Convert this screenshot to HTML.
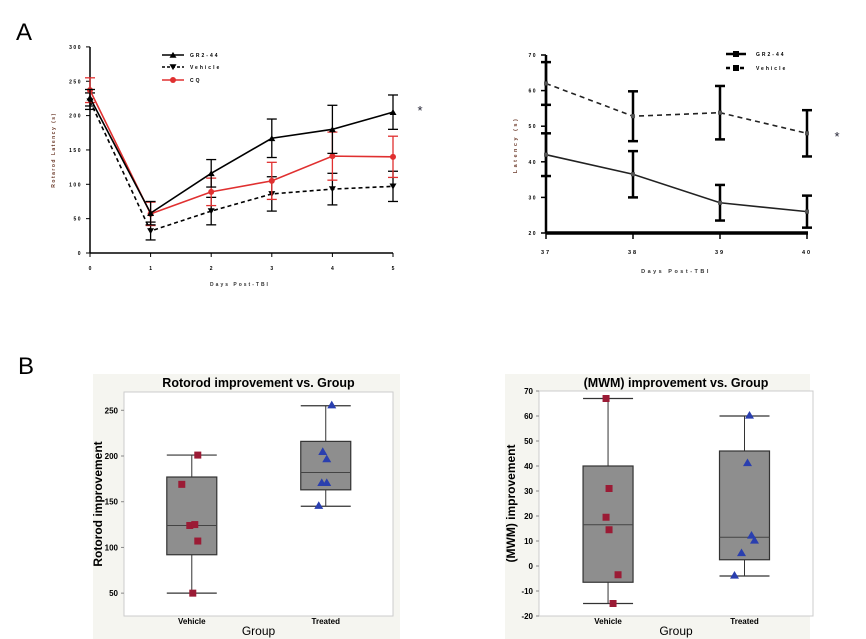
<!DOCTYPE html>
<html><head><meta charset="utf-8"><style>
body{margin:0;background:#fff;width:866px;height:639px;overflow:hidden;font-family:"Liberation Sans",sans-serif}
svg{position:absolute;left:0;top:0}
</style></head><body>
<svg id="s" width="866" height="639"></svg>
<script>
// Panel A left: rotarod latency
const daysA=[0,1,2,3,4,5];
const grMean=[226,58,116,167,180,205];
const grErr=[12,17,20,28,35,25];
const vehMean=[221,32,61,86,93,97];
const vehErr=[12,13,20,25,23,22];
const cqMean=[237,57,89,105,141,140];
const cqErr=[18,17,20,27,35,30];
const ticksA=[0,50,100,150,200,250,300];
// Panel A right: MWM latency
const daysB=[37,38,39,40];
const gr2Mean=[42,36.5,28.5,26];
const gr2Err=[6,6.5,5,4.5];
const veh2Mean=[62,52.8,53.8,48];
const veh2Err=[6,7,7.5,6.5];
const ticksB=[20,30,40,50,60,70];
// Panel B left: rotorod improvement
const groups=["Vehicle","Treated"];
const rotBox=[[50,92,124,177,201],[145,163,182,216,255]];
const rotVeh=[201,169,124,125,107,50];
const rotTrt=[255,204,196,170,170,145];
const ticksC=[50,100,150,200,250];
// Panel B right: MWM improvement
const mwmBox=[[-15,-6.5,16.5,40,67],[-4,2.5,11.5,46,60]];
const mwmVeh=[67,31,19.5,14.5,-3.5,-15];
const mwmTrt=[60,41,12,10,5,-4];
const ticksD=[-20,-10,0,10,20,30,40,50,60,70];
const jitVeh=[6,-10,-2,3,6,1], jitTrt=[6,-3,1,-4,1,-7];
const jitVeh2=[-2,1,-2,1,10,5], jitTrt2=[5,3,7,10,-3,-10];

const S=document.getElementById('s');const NS='http://www.w3.org/2000/svg';
function el(t,a,txt,p){const e=document.createElementNS(NS,t);for(const k in a)e.setAttribute(k,a[k]);if(txt!==undefined)e.textContent=txt;(p||S).appendChild(e);return e;}
function tri(x,y,r,down){return down?`${x-r},${y-r*0.8} ${x+r},${y-r*0.8} ${x},${y+r*0.9}`:`${x-r},${y+r*0.8} ${x+r},${y+r*0.8} ${x},${y-r*0.9}`;}

let t=el('text',{x:16,y:40,'font-size':24,fill:'#000'},'A');

t=el('text',{x:18,y:374,'font-size':24,fill:'#000'},'B');


// ---- Chart A1
{
const g=el('g',{});
const xs=d=>90+d*60.6, ys=v=>253-v*0.687;
el('line',{x1:90,y1:47,x2:90,y2:253,stroke:'#000','stroke-width':1.5},undefined,g);
el('line',{x1:90,y1:253,x2:393,y2:253,stroke:'#000','stroke-width':1.5},undefined,g);
ticksA.forEach(v=>{el('line',{x1:86,y1:ys(v),x2:90,y2:ys(v),stroke:'#000'},undefined,g);
 const l=el('text',{x:82,y:ys(v)+2,'font-size':5,'font-weight':'bold','text-anchor':'end','letter-spacing':1.5},String(v),g);
 });
daysA.forEach(d=>{el('line',{x1:xs(d),y1:253,x2:xs(d),y2:257,stroke:'#000'},undefined,g);
 const l=el('text',{x:xs(d),y:270,'font-size':5,'font-weight':'bold','text-anchor':'middle'},String(d),g);
 });
let a=el('text',{x:240,y:286,'font-size':5,'font-weight':'bold','text-anchor':'middle','letter-spacing':2,fill:'#333'},'Days Post-TBI',g);

a=el('text',{x:0,y:0,'font-size':5,'font-weight':'bold','text-anchor':'middle','letter-spacing':1.5,fill:'#6b3a2a',transform:'translate(55,150) rotate(-90)'},'Rotarod Latency (s)',g);

const series=[[vehMean,vehErr,'#000','4,3','v'],[cqMean,cqErr,'#e03030','','o'],[grMean,grErr,'#000','','^']];
series.forEach(([m,e,c,da,mk])=>{
 const sg=el('g',{},undefined,g);
 el('polyline',{points:daysA.map((d,i)=>xs(d)+','+ys(m[i])).join(' '),fill:'none',stroke:c,'stroke-width':1.6,'stroke-dasharray':da},undefined,sg);
 daysA.forEach((d,i)=>{const x=xs(d);
  el('line',{x1:x,y1:ys(m[i]-e[i]),x2:x,y2:ys(m[i]+e[i]),stroke:c,'stroke-width':1.3},undefined,sg);
  [m[i]-e[i],m[i]+e[i]].forEach(v=>el('line',{x1:x-5,y1:ys(v),x2:x+5,y2:ys(v),stroke:c,'stroke-width':1.3},undefined,sg));
  if(mk=='o')el('circle',{cx:x,cy:ys(m[i]),r:3,fill:c},undefined,sg);
  else el('polygon',{points:tri(x,ys(m[i]),3.5,mk=='v'),fill:c},undefined,sg);});
});
const leg=[['GR2-44','#000','','^',55],['Vehicle','#000','3,2','v',67],['CQ','#e03030','','o',80]];
leg.forEach(([n,c,da,mk,y])=>{const lg=el('g',{},undefined,g);
 el('line',{x1:162,y1:y,x2:184,y2:y,stroke:c,'stroke-width':1.6,'stroke-dasharray':da},undefined,lg);
 if(mk=='o')el('circle',{cx:173,cy:y,r:3,fill:c},undefined,lg);else el('polygon',{points:tri(173,y,3.5,mk=='v'),fill:c},undefined,lg);
 el('text',{x:190,y:y+2,'font-size':5,'font-weight':'bold','letter-spacing':2},n,lg);});
a=el('text',{x:420,y:115,'font-size':13,fill:'#223','text-anchor':'middle'},'*',g);
}
// ---- Chart A2
{
const g=el('g',{});
const xs=d=>546+(d-37)*87, ys=v=>233-(v-20)*3.56;
el('line',{x1:546,y1:55,x2:546,y2:233,stroke:'#000','stroke-width':2.5},undefined,g);
el('line',{x1:546,y1:233,x2:808,y2:233,stroke:'#000','stroke-width':3.5},undefined,g);
ticksB.forEach(v=>{el('line',{x1:541,y1:ys(v),x2:546,y2:ys(v),stroke:'#000','stroke-width':1.5},undefined,g);
 const l=el('text',{x:537,y:ys(v)+2,'font-size':5,'font-weight':'bold','text-anchor':'end','letter-spacing':1.5},String(v),g);
 });
daysB.forEach(d=>{el('line',{x1:xs(d),y1:233,x2:xs(d),y2:239,stroke:'#000','stroke-width':1.5},undefined,g);
 const l=el('text',{x:xs(d),y:254,'font-size':5.5,'font-weight':'bold','text-anchor':'middle','letter-spacing':2},String(d),g);
 });
let a=el('text',{x:676,y:273,'font-size':5.5,'font-weight':'bold','text-anchor':'middle','letter-spacing':2.5,fill:'#333'},'Days Post-TBI',g);

a=el('text',{x:0,y:0,'font-size':5.5,'font-weight':'bold','text-anchor':'middle','letter-spacing':2.5,fill:'#6b3a2a',transform:'translate(517,145) rotate(-90)'},'Latency (s)',g);

[[veh2Mean,veh2Err,'5,4','vehicle'],[gr2Mean,gr2Err,'','gr2-44']].forEach(([m,e,da,n])=>{
 const sg=el('g',{},undefined,g);
 el('polyline',{points:daysB.map((d,i)=>xs(d)+','+ys(m[i])).join(' '),fill:'none',stroke:'#222','stroke-width':1.6,'stroke-dasharray':da},undefined,sg);
 daysB.forEach((d,i)=>{const x=xs(d);
  el('line',{x1:x,y1:ys(m[i]-e[i]),x2:x,y2:ys(m[i]+e[i]),stroke:'#000','stroke-width':2.5},undefined,sg);
  [m[i]-e[i],m[i]+e[i]].forEach(v=>el('line',{x1:x-5,y1:ys(v),x2:x+5,y2:ys(v),stroke:'#000','stroke-width':2.5},undefined,sg));
  el('rect',{x:x-2,y:ys(m[i])-2,width:4,height:4,fill:'#555'},undefined,sg);});
});
[['GR2-44','',54],['Vehicle','4,3',68]].forEach(([n,da,y])=>{const lg=el('g',{},undefined,g);
 el('line',{x1:726,y1:y,x2:746,y2:y,stroke:'#000','stroke-width':2.5,'stroke-dasharray':da},undefined,lg);
 el('rect',{x:733,y:y-3,width:6,height:6,fill:'#000'},undefined,lg);
 el('text',{x:756,y:y+2,'font-size':5,'font-weight':'bold','letter-spacing':2},n,lg);});
a=el('text',{x:837,y:141,'font-size':13,fill:'#223','text-anchor':'middle'},'*',g);
}
// ---- Box plots
function boxChart(name,px0,px1,pl,pr,pt,pb,vmin,vmax,ticks,title,ytitle,box,veh,trt,jv,jt,ytx){
 const g=el('g',{});
 el('rect',{x:px0,y:374,width:px1-px0,height:265,fill:'#f5f5f0'},undefined,g);
 el('rect',{x:pl,y:pt,width:pr-pl,height:pb-pt,fill:'#fff',stroke:'#ccc','stroke-width':1},undefined,g);
 const ys=v=>pb-(v-vmin)/(vmax-vmin)*(pb-pt);
 const cx=[pl+(pr-pl)*0.252,pl+(pr-pl)*0.75];
 let a=el('text',{x:(pl+pr)/2,y:387,'font-size':12.5,'font-weight':'bold','text-anchor':'middle'},title,g);
 ticks.forEach(v=>{el('line',{x1:pl-3,y1:ys(v),x2:pl,y2:ys(v),stroke:'#888'},undefined,g);
  const l=el('text',{x:pl-6,y:ys(v)+3,'font-size':8,'font-weight':'bold','text-anchor':'end'},String(v),g);});
 a=el('text',{x:0,y:0,'font-size':12,'font-weight':'bold','text-anchor':'middle',transform:`translate(${ytx},${(pt+pb)/2}) rotate(-90)`},ytitle,g);
 a=el('text',{x:(pl+pr)/2,y:635,'font-size':12,'text-anchor':'middle'},'Group',g);
 groups.forEach((gn,i)=>{const x=cx[i],b=box[i];
  const l=el('text',{x:x,y:624,'font-size':8,'font-weight':'bold','text-anchor':'middle'},gn,g);
  const bg=el('g',{},undefined,g);
  el('line',{x1:x,y1:ys(b[0]),x2:x,y2:ys(b[4]),stroke:'#333'},undefined,bg);
  [b[0],b[4]].forEach(v=>el('line',{x1:x-25,y1:ys(v),x2:x+25,y2:ys(v),stroke:'#333','stroke-width':1.2},undefined,bg));
  el('rect',{x:x-25,y:ys(b[3]),width:50,height:ys(b[1])-ys(b[3]),fill:'#8e8e8e',stroke:'#333','stroke-width':1.2},undefined,bg);
  el('line',{x1:x-25,y1:ys(b[2]),x2:x+25,y2:ys(b[2]),stroke:'#444'},undefined,bg);
 });
 veh.forEach((v,i)=>{const r=el('rect',{x:cx[0]+jv[i]-3.5,y:ys(v)-3.5,width:7,height:7,fill:'#9b1b35'},undefined,g);});
 trt.forEach((v,i)=>{const p=el('polygon',{points:tri(cx[1]+jt[i],ys(v)-1,4.5,false),fill:'#2a3faf'},undefined,g);});
}
boxChart('rotorod-improvement-chart',93,400,124,393,392,616,25,270,ticksC,'Rotorod improvement vs. Group','Rotorod improvement',rotBox,rotVeh,rotTrt,jitVeh,jitTrt,102);
boxChart('mwm-improvement-chart',505,810,539,813,391,616,-20,70,ticksD,'(MWM) improvement vs. Group','(MWM) improvement',mwmBox,mwmVeh,mwmTrt,jitVeh2,jitTrt2,515);
</script>
</body></html>
